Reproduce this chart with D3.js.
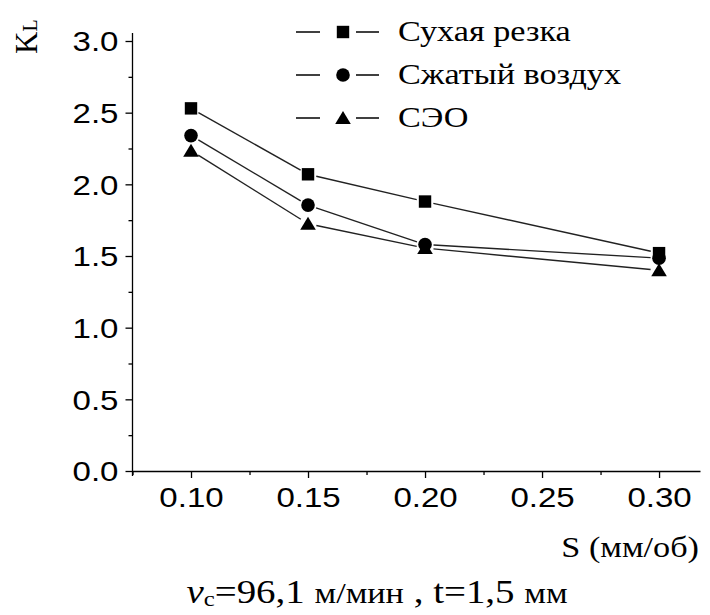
<!DOCTYPE html>
<html>
<head>
<meta charset="utf-8">
<script src="https://cdn.jsdelivr.net/npm/d3@7"></script>
<style>
  body { margin: 0; background: #fff; }
  svg { display: block; }
  .serif { font-family: "Liberation Serif", "DejaVu Serif", "Times New Roman", serif; }
  .sans { font-family: "Liberation Sans", Arial, sans-serif; }
</style>
</head>
<body>
<div id="chart"></div>
<script>
const width = 710;
const height = 615;

// feed S (mm/rev)
const sValues = [0.10, 0.15, 0.20, 0.30];
// K values per cooling method
const dryCut = [2.53, 2.07, 1.88, 1.52];
const compressedAir = [2.34, 1.855, 1.58, 1.485];
const seo = [2.235, 1.725, 1.555, 1.40];
const seriesNames = ["Сухая резка", "Сжатый воздух", "СЭО"];
const markerTypes = ["square", "circle", "triangle"];

const xTicks = [0.10, 0.15, 0.20, 0.25, 0.30];
const xMinor = [0.075, 0.125, 0.175, 0.225, 0.275];
const yTicks = [0.0, 0.5, 1.0, 1.5, 2.0, 2.5, 3.0];
const yMinor = [0.25, 0.75, 1.25, 1.75, 2.25, 2.75];

// the picture is a bit stretched sideways
const sx = 1.18;

const x = d3.scaleLinear().domain([0.075, 0.3175]).range([132.5, 700]);
const y = d3.scaleLinear().domain([0, 3]).range([471, 41]);

const svg = d3.select("#chart").append("svg")
    .attr("width", width)
    .attr("height", height)
    .attr("viewBox", [0, 0, width, height]);

function marker(g, type) {
  if (type === "square") {
    g.append("rect").attr("x", -6.2).attr("y", -6.2).attr("width", 12.4).attr("height", 12.4);
  } else if (type === "circle") {
    g.append("circle").attr("r", 6.8);
  } else {
    g.append("path").attr("d", "M0,-7L7.8,6L-7.8,6Z");
  }
  g.attr("fill", "#000");
}

// axes
const yAxis = svg.append("g")
    .attr("transform", `translate(${x.range()[0]},0)`)
    .call(d3.axisLeft(y).tickValues(yTicks).tickFormat(d3.format(".1f")).tickSize(7).tickSizeOuter(0));
svg.append("g")
    .attr("transform", `translate(${x.range()[0]},0)`)
    .call(d3.axisLeft(y).tickValues(yMinor).tickFormat("").tickSize(4).tickSizeOuter(0))
    .call(g => g.select(".domain").remove());
svg.append("line")
    .attr("x1", x.range()[0]).attr("x2", x.range()[0])
    .attr("y1", 33).attr("y2", 476)
    .attr("stroke", "#000").attr("stroke-width", 1.3);
yAxis.select(".domain").remove();

const xAxis = svg.append("g")
    .attr("transform", `translate(0,${y(0)})`)
    .call(d3.axisBottom(x).tickValues(xTicks).tickFormat(d3.format(".2f")).tickSize(7).tickSizeOuter(0));
svg.append("g")
    .attr("transform", `translate(0,${y(0)})`)
    .call(d3.axisBottom(x).tickValues(xMinor).tickFormat("").tickSize(4).tickSizeOuter(0))
    .call(g => g.select(".domain").remove());

svg.selectAll(".tick line").attr("stroke", "#000").attr("stroke-width", 1.3);
xAxis.select(".domain").attr("stroke", "#000").attr("stroke-width", 1.3);
svg.selectAll(".tick text")
    .attr("class", "sans")
    .attr("font-family", null)
    .attr("font-size", 28)
    .attr("fill", "#000");
yAxis.selectAll(".tick text")
    .attr("x", null).attr("dy", "0.35em")
    .attr("transform", `translate(-14,0) scale(${sx},1)`);
xAxis.selectAll(".tick text")
    .attr("y", null).attr("dy", "0.71em")
    .attr("transform", `translate(0,16) scale(${sx},1)`);

// axis titles
const kLabel = svg.append("text")
    .attr("class", "serif")
    .attr("transform", "translate(37,54) rotate(-90)")
    .attr("font-size", 31);
kLabel.append("tspan").text("K");
kLabel.append("tspan").attr("font-size", 20).text("L");

svg.append("text")
    .attr("class", "serif")
    .attr("transform", `translate(699,557) scale(${sx},1)`)
    .attr("text-anchor", "end")
    .attr("font-size", 29)
    .text("S (мм/об)");

const caption = svg.append("text")
    .attr("class", "serif")
    .attr("transform", `translate(377,603) scale(${sx},1)`)
    .attr("text-anchor", "middle")
    .attr("font-size", 33);
caption.append("tspan").attr("font-style", "italic").text("v");
caption.append("tspan").attr("font-size", 21).attr("dy", 3).text("с");
caption.append("tspan").attr("dy", -3).text("=96,1 ");
caption.append("tspan").attr("font-size", 29).text("м/мин");
caption.append("tspan").text(" ,  t=1,5 ");
caption.append("tspan").attr("font-size", 29).text("мм");

// data series
const series = [dryCut, compressedAir, seo].map((vals, i) => ({
  name: seriesNames[i],
  type: markerTypes[i],
  points: vals.map((v, j) => [x(sValues[j]), y(v)])
}));

const gap = 8.5;
series.forEach(s => {
  const g = svg.append("g");
  for (let j = 0; j < s.points.length - 1; j++) {
    const [x1, y1] = s.points[j];
    const [x2, y2] = s.points[j + 1];
    const len = Math.hypot(x2 - x1, y2 - y1);
    const ux = (x2 - x1) / len, uy = (y2 - y1) / len;
    g.append("line")
        .attr("x1", x1 + ux * gap).attr("y1", y1 + uy * gap)
        .attr("x2", x2 - ux * gap).attr("y2", y2 - uy * gap)
        .attr("stroke", "#222").attr("stroke-width", 1.4);
  }
});
series.forEach(s => {
  s.points.forEach(p => {
    const m = svg.append("g").attr("transform", `translate(${p[0]},${p[1]})`);
    marker(m, s.type);
  });
});

// legend
const legendY = [32, 75, 118];
series.forEach((s, i) => {
  const g = svg.append("g").attr("transform", `translate(0,${legendY[i]})`);
  g.append("line").attr("x1", 296).attr("x2", 320).attr("stroke", "#000").attr("stroke-width", 1.5);
  g.append("line").attr("x1", 356).attr("x2", 379).attr("stroke", "#000").attr("stroke-width", 1.5);
  marker(g.append("g").attr("transform", "translate(343,0)"), s.type);
  g.append("text")
      .attr("class", "serif")
      .attr("transform", `translate(398,9) scale(${sx},1)`)
      .attr("font-size", 29)
      .text(s.name);
});
</script>
</body>
</html>
